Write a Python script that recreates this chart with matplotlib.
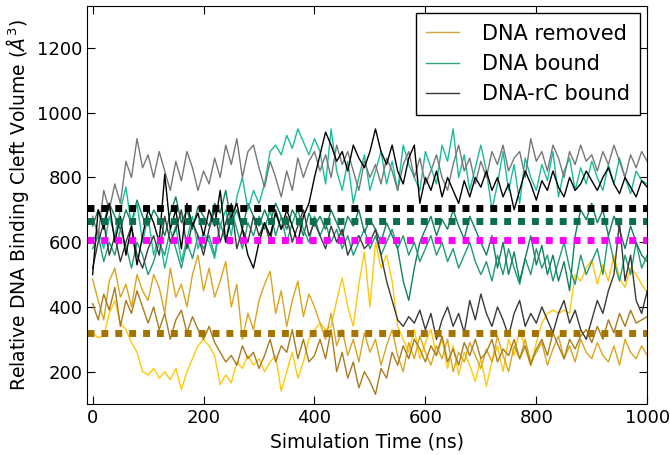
import numpy as np
import matplotlib.pyplot as plt

# simulation time (ns), one sample every 10 ns
t = np.arange(0, 1001, 10)

# DNA removed runs
removed_a = [320, 305, 310, 380, 420, 350, 330, 290, 260, 200, 190,
             210, 180, 200, 175, 210, 145, 200, 240, 280, 300,
             280, 250, 160, 190, 165, 230, 210, 250, 220, 240,
             200, 230, 250, 140, 200, 260, 180, 230, 300, 330,
             350, 330, 340, 420, 490, 400, 340, 470, 570, 400,
             600, 520, 560, 480, 340, 300, 260, 330, 240, 290,
             330, 250, 300, 210, 280, 190, 260, 220, 170, 240,
             155, 230, 280, 200, 300, 250, 330, 270, 220, 290,
             350, 380, 390, 380, 390, 380, 500, 480, 520, 545,
             470, 530, 480, 560, 490, 460, 520, 500, 470, 445]
removed_b = [485, 420, 360, 480, 520, 430, 470, 400, 500, 450, 420,
             500, 460, 380, 520, 430, 470, 400, 500, 560, 450,
             520, 430, 480, 540, 400, 470, 300, 380, 330, 420,
             470, 510, 380, 450, 340, 420, 480, 370, 440, 400,
             350, 300, 380, 280, 330, 250, 300, 230, 320, 260,
             300, 220, 280, 330, 250, 200, 290, 240, 310, 260,
             220, 280, 240, 300, 200, 260, 230, 290, 250, 210,
             270, 230, 310, 250, 200, 280, 240, 300, 230, 260,
             290, 220, 270, 310, 240, 280, 230, 300, 260, 240,
             290, 250, 230, 280, 220, 300, 260, 240, 280, 250]
removed_c = [410, 360, 440, 390, 460, 340, 420, 380, 450, 400, 350,
             400, 330, 380, 300, 360, 390, 320, 370, 330, 300,
             340, 290, 260, 230, 250, 220, 280, 240, 260, 210,
             250, 300, 230, 280, 260, 330, 240, 300, 230, 250,
             300, 240, 330, 200, 260, 180, 230, 150, 200, 170,
             130, 210, 180, 260, 220, 280, 240, 300, 270, 230,
             280, 250, 310, 230, 270, 220, 290, 250, 300, 240,
             260, 300, 230, 270, 250, 300, 240, 280, 220, 270,
             300, 250, 320, 280, 240, 300, 270, 310, 330, 290,
             340, 300, 360, 320, 380, 340, 390, 350, 360, 370]

# DNA bound runs
bound_a = [600, 640, 580, 680, 620, 700, 770, 650, 720, 600, 680,
           560, 620, 520, 600, 650, 540, 610, 680, 580, 630,
           600, 550, 650, 700, 620, 740, 800, 700, 760, 720,
           780, 880, 900, 870, 930, 890, 950, 910, 870, 920,
           880, 780, 950, 820, 760, 850, 720, 800, 870, 760,
           820, 880, 780, 850, 760, 900, 840, 800, 760, 880,
           830, 780, 900, 850, 950, 800, 870, 760, 830, 900,
           820, 700, 780, 880, 760, 840, 720, 860, 800, 760,
           840, 790, 880, 740, 820, 860, 760, 830, 780, 850,
           800, 760, 840, 780, 860, 800, 750, 820, 790, 780]
bound_b = [650, 700, 660, 720, 680, 640, 700, 660, 730, 680, 650,
           700, 670, 620, 690, 740, 660, 700, 640, 710, 680,
           650, 720, 690, 760, 660, 700, 640, 720, 680, 650,
           700, 660, 720, 680, 640, 700, 670, 620, 690, 650,
           680, 640, 700, 660, 620, 680, 650, 700, 630, 670,
           640, 600, 660, 620, 580, 480, 420, 520, 600, 640,
           680, 620, 670, 640, 700, 650, 610, 680, 640, 600,
           560, 620, 520, 600, 500, 570, 480, 550, 620, 530,
           590, 500, 560, 480, 540, 450, 620, 700, 670, 720,
           660, 700, 620, 680, 640, 580, 650, 600, 560, 540]
bound_c = [580, 620, 540, 600, 560, 640, 590, 520, 600, 560, 500,
           540, 600, 560, 640, 580, 520, 600, 550, 620, 580,
           620, 560, 660, 600, 700, 640, 580, 660, 620, 680,
           640, 700, 620, 680, 600, 660, 700, 640, 600, 680,
           620, 660, 600, 640, 580, 620, 560, 600, 640, 580,
           620, 560, 600, 640, 580, 620, 560, 600, 540, 580,
           620, 560, 600, 540, 580, 520, 560, 600, 540, 500,
           540, 480, 560, 500, 580, 520, 470, 550, 500, 580,
           520, 560, 480, 540, 600, 520, 470, 560, 500, 540,
           580, 500, 620, 540, 480, 560, 500, 600, 520, 560]

# DNA-rC bound runs
rc_a = [680, 620, 760, 700, 780, 720, 850, 800, 920, 830, 870,
        800, 880, 820, 760, 850, 790, 880, 830, 760, 820,
        780, 860, 800, 900, 840, 920, 800, 880, 900, 830,
        770, 850, 800, 740, 820, 760, 860, 800, 850, 880,
        820, 870, 800, 900, 840, 880, 820, 760, 850, 800,
        840, 780, 860, 820, 760, 840, 880, 800, 860, 780,
        820, 870, 800, 760, 840, 900, 820, 860, 780, 850,
        800, 880, 840, 900, 820, 860, 880, 800, 920, 850,
        880, 820, 900, 860, 800, 880, 840, 900, 850, 870,
        820, 880, 840, 900, 850, 800, 870, 830, 880, 850]
rc_b = [500, 700, 640, 720, 600, 680, 560, 650, 530, 620, 700,
        660, 600, 810, 640, 700, 580, 720, 650, 690, 620,
        700, 650, 760, 600, 680, 720, 640, 560, 520, 600,
        660, 620, 690, 640, 700, 650, 600, 680, 720, 800,
        870, 940, 900, 850, 880, 820, 900, 860, 830, 880,
        950, 880, 840, 900, 820, 780, 860, 900, 720, 800,
        760, 820, 740, 800, 760, 720, 790, 740, 800, 770,
        820, 760, 800, 740, 780, 700, 760, 820, 780, 730,
        790, 760, 820, 770, 740, 800, 760, 780, 820, 790,
        760, 800, 830, 780, 750, 800, 770, 740, 790, 770]
rc_c = [520, 600, 660, 560, 620, 540, 600, 650, 560, 520, 580,
        620, 560, 680, 600, 640, 700, 580, 660, 620, 560,
        640, 700, 600, 660, 720, 580, 640, 600, 680, 620,
        660, 600, 700, 640, 680, 600, 650, 700, 620, 660,
        620, 580, 650, 600, 640, 560, 600, 620, 580, 600,
        640, 560, 480, 420, 360, 340, 370, 350, 390, 330,
        380, 300, 360, 400, 340, 380, 320, 420, 360, 440,
        380, 340, 400, 360, 310, 380, 420, 340, 380, 350,
        400, 360, 320, 380, 420, 350, 390, 330, 300, 360,
        420, 380, 450, 500, 660, 480, 560, 420, 380, 450]

# mean levels (dotted lines)
means = [706, 666, 607, 320]
mean_colors = ['#000000', '#0b6e4f', '#ff00ff', '#a57400']

fig = plt.figure(figsize=(6.7, 4.55), dpi=100)
ax = fig.add_axes([0.130, 0.112, 0.836, 0.875])

for y, c in zip([removed_a, removed_b, removed_c], ['#ffc80a', '#d9a520', '#a87c1e']):
    ax.plot(t, y, color=c, linewidth=1.0)
for y, c in zip([bound_c, bound_b, bound_a], ['#1f9a78', '#11805f', '#1abc9c']):
    ax.plot(t, y, color=c, linewidth=1.0)
for y, c in zip([rc_a, rc_c, rc_b], ['#777777', '#3a3a3a', '#000000']):
    ax.plot(t, y, color=c, linewidth=1.0)

for m, c in zip(means, mean_colors):
    ax.axhline(m, color=c, linewidth=5, dashes=(1, 1))

# legend proxies
ax.plot([], [], color='#d4a53c', linewidth=1.0, label='DNA removed')
ax.plot([], [], color='#2aa878', linewidth=1.0, label='DNA bound')
ax.plot([], [], color='#3a3a3a', linewidth=1.0, label='DNA-rC bound')

ax.set_xlim(-10, 1000)
ax.set_ylim(100, 1330)
ax.set_xticks(range(0, 1001, 200))
ax.set_yticks(range(200, 1201, 200))
ax.tick_params(direction='in', top=True, right=True, length=6, labelsize=13)
ax.set_xlabel('Simulation Time (ns)', fontsize=13.5)
ax.set_ylabel(r'Relative DNA Binding Cleft Volume ($\AA^3$)', fontsize=13.5)

leg = ax.legend(loc='upper right', fontsize=15, fancybox=False, framealpha=1,
                edgecolor='black', handlelength=1.55, handletextpad=1.1,
                labelspacing=0.5, borderpad=0.5, borderaxespad=0.35)
leg.get_frame().set_linewidth(1.0)

fig.savefig('out.png', dpi=100)
